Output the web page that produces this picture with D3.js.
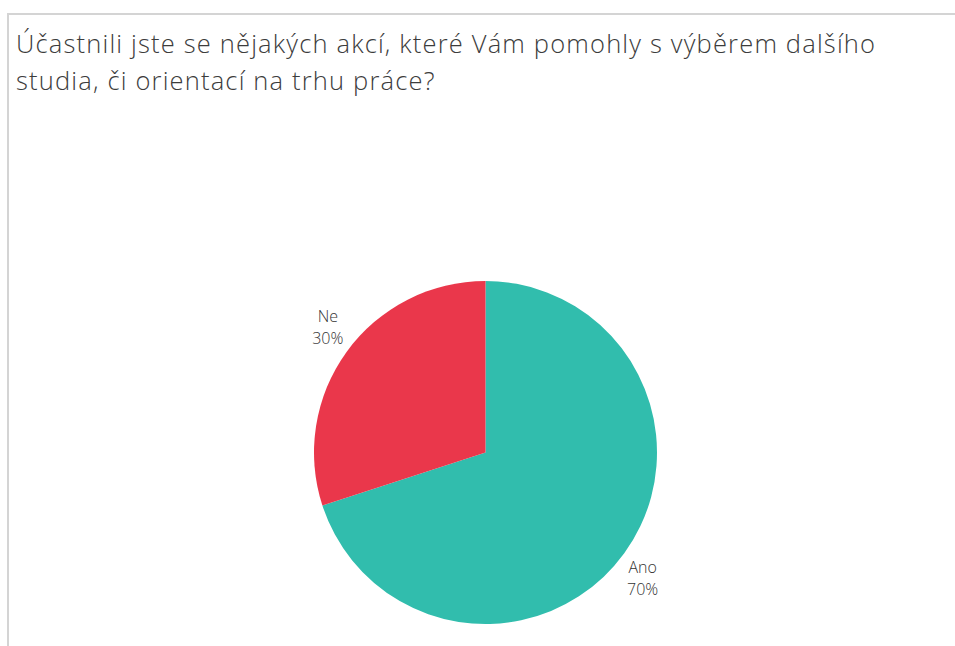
<!DOCTYPE html>
<html>
<head>
<meta charset="utf-8">
<script src="https://cdn.jsdelivr.net/npm/d3@7"></script>
<style>
  body { margin: 0; background: #fff; }
  svg { display: block; }
</style>
</head>
<body>
<svg width="955" height="646"></svg>
<script>
// Survey answers
var categories = ["Ano", "Ne"];
var shares = [70, 30];
var sliceColors = ["#31bdad", "#ea374b"];
var titleLines = [
  "Účastnili jste se nějakých akcí, které Vám pomohly s výběrem dalšího",
  "studia, či orientací na trhu práce?"
];

var svg = d3.select("svg");
var FONT = "'Open Sans', 'Noto Sans', sans-serif";

// frame lines (top + left)
svg.append("line").attr("x1", 8).attr("x2", 955).attr("y1", 14).attr("y2", 14)
  .attr("stroke", "#d4d4d4").attr("stroke-width", 2);
svg.append("line").attr("x1", 8).attr("x2", 8).attr("y1", 13).attr("y2", 646)
  .attr("stroke", "#d4d4d4").attr("stroke-width", 2);

// title
var title = svg.append("g").selectAll("text").data(titleLines).enter().append("text")
  .attr("x", 16)
  .attr("y", function(d, i) { return 53 + i * 37; })
  .attr("font-family", FONT)
  .attr("font-size", 25.5)
  .attr("font-weight", 300)
  .attr("fill", "#3c3c3c")
  .text(function(d) { return d; });

// stretch spacing so the first line ends where the original's does (~875px)
var firstLen = title.node().getComputedTextLength();
var ls = (859 - firstLen) / (titleLines[0].length - 1);
title.attr("letter-spacing", ls);

var CX = 485.5, CY = 452.5, R = 171.5;

var data = categories.map(function(c, i) { return {name: c, value: shares[i]}; });
var color = d3.scaleOrdinal().domain(categories).range(sliceColors);
var pie = d3.pie().value(function(d) { return d.value; }).sort(null);
var arc = d3.arc().innerRadius(0).outerRadius(R);

var g = svg.append("g").attr("transform", "translate(" + CX + "," + CY + ")");
var arcs = pie(data);

g.selectAll("path").data(arcs).enter().append("path")
  .attr("d", arc)
  .attr("fill", function(d) { return color(d.data.name); });

// label spots (angle from top, clockwise, and distance)
var labelPos = { "Ano": [2.268, 205], "Ne": [5.362, 198] };

var labels = g.selectAll("g.lbl").data(arcs).enter().append("g")
  .attr("class", "lbl")
  .attr("transform", function(d) {
    var p = labelPos[d.data.name];
    return "translate(" + (Math.sin(p[0]) * p[1]) + "," + (-Math.cos(p[0]) * p[1]) + ")";
  });

labels.append("text")
  .attr("text-anchor", "middle")
  .attr("y", -11)
  .attr("font-family", FONT).attr("font-size", 16).attr("font-weight", 300).attr("fill", "#333")
  .text(function(d) { return d.data.name; });
labels.append("text")
  .attr("text-anchor", "middle")
  .attr("y", 11)
  .attr("font-family", FONT).attr("font-size", 16).attr("font-weight", 300).attr("fill", "#333")
  .text(function(d) { return d.data.value + "%"; });
</script>
</body>
</html>
